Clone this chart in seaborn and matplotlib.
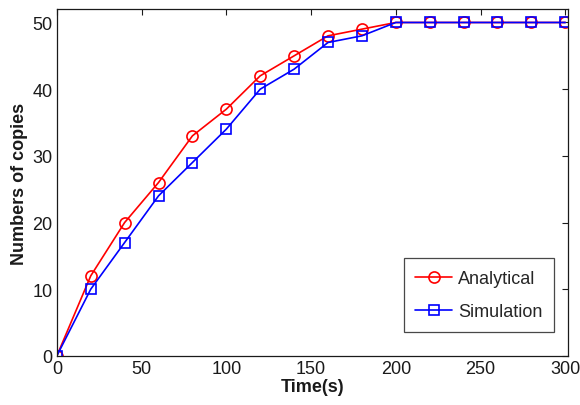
import numpy as np
import pandas as pd
import matplotlib
matplotlib.use("Agg")
import matplotlib.pyplot as plt
import seaborn as sns

time_s = [0, 20, 40, 60, 80, 100, 120, 140, 160, 180, 200, 220, 240, 260, 280, 300]
analytical = [0, 12, 20, 26, 33, 37, 42, 45, 48, 49, 50, 50, 50, 50, 50, 50]
simulation = [0, 10, 17, 24, 29, 34, 40, 43, 47, 48, 50, 50, 50, 50, 50, 50]

df = pd.DataFrame({
    "Time": time_s * 2,
    "Copies": analytical + simulation,
    "Method": ["Analytical"] * len(time_s) + ["Simulation"] * len(time_s),
})

sns.set_style("white")
plt.rcParams["font.family"] = ["Liberation Sans", "DejaVu Sans"]

fig = plt.figure(figsize=(5.8, 4.06), dpi=100)
ax = fig.add_axes([0.098, 0.121, 0.881, 0.854])

sns.lineplot(
    data=df, x="Time", y="Copies", hue="Method", style="Method",
    palette={"Analytical": "#ff0000", "Simulation": "#0000ff"},
    markers={"Analytical": "o", "Simulation": "s"},
    dashes=False, ax=ax, linewidth=1.2,
    markersize=8, markerfacecolor="none", markeredgewidth=1.2,
)
for line in ax.lines:
    if line.get_marker() == "s":
        line.set_markersize(6.5)
        line.set_markeredgecolor("#0000ff")
    elif line.get_marker() == "o":
        line.set_markeredgecolor("#ff0000")

ax.set_xlim(0, 301.5)
ax.set_ylim(0, 52)
ax.set_xticks(range(0, 301, 50))
ax.set_yticks(range(0, 51, 10))
ax.tick_params(direction="in", length=4, width=0.8, top=True, right=True,
               labelsize=13, colors="#1a1a1a", pad=3)
for s in ax.spines.values():
    s.set_visible(True)
    s.set_color("#1a1a1a")
    s.set_linewidth(0.9)

ax.set_xlabel("Time(s)", fontsize=13, fontweight="bold", labelpad=1, color="#1a1a1a")
ax.set_ylabel("Numbers of copies", fontsize=13, fontweight="bold", labelpad=3, color="#1a1a1a")

leg = ax.legend(loc="lower right", bbox_to_anchor=(0.973, 0.069), fontsize=13,
                frameon=True, fancybox=False, edgecolor="#1a1a1a",
                borderpad=0.65, labelspacing=0.9, handlelength=2.0, handletextpad=0.35,
                borderaxespad=0)
leg.get_frame().set_linewidth(0.9)
for h in leg.legend_handles:
    h.set_markerfacecolor("none")

fig.savefig("out.png", dpi=100)
